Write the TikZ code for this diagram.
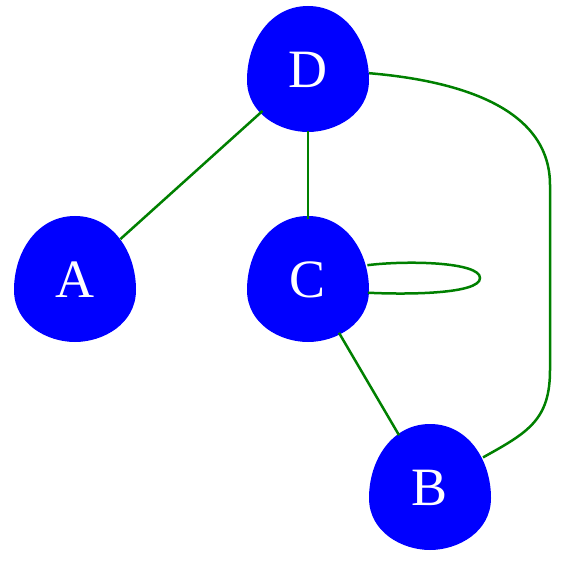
\documentclass[tikz,border=0pt]{standalone}
\usepackage{fontspec}
\setmainfont{Liberation Serif}
\usetikzlibrary{backgrounds}
\definecolor{cNode}{HTML}{0000FF}
\definecolor{cEdge}{HTML}{008000}
\tikzset{
  vert/.style = {circle, minimum size=122pt, inner sep=0pt, text=white,
                 font=\fontsize{54}{54}\selectfont},
  link/.style = {draw=cEdge, line width=2.5pt},
}
% egg outline round a node centre
\newcommand{\eggshape}[1]{%
  \fill[cNode] ([shift={(0,64)}]#1.center)
    .. controls +(38,0) and +(0,38) .. ([shift={(61,-10)}]#1.center)
    .. controls +(0,-34) and +(28,0) .. ([shift={(0,-62)}]#1.center)
    .. controls +(-28,0) and +(0,-34) .. ([shift={(-61,-10)}]#1.center)
    .. controls +(0,38) and +(-38,0) .. cycle;}

\begin{document}
\begin{tikzpicture}[x=1pt, y=1pt]
  \useasboundingbox (0,0) rectangle (567,560);

  \node[vert] (D) at (308,490) {D};
  \node[vert] (A) at (75,280)  {A};
  \node[vert] (C) at (308,280) {C};
  \node[vert] (B) at (430,72)  {B};

  \begin{scope}[on background layer]
    \eggshape{D}
    \eggshape{A}
    \eggshape{C}
    \eggshape{B}
  \end{scope}

  \coordinate (r1) at (550,375);
  \coordinate (r2) at (550,190);
  \coordinate (lp) at (480,282);

  \draw[link] (D) -- (A);
  \draw[link] (D) -- (C);
  \draw[link] (C) -- (B);
  \draw[link] (D.-3) .. controls +(95,-8) and +(0,75) .. (r1) -- (r2)
              .. controls +(0,-50) and +(45,25) .. (B.30);
  \draw[link] (C.14) .. controls +(40,5) and +(0,16) .. (lp)
              .. controls +(0,-16) and +(40,-2) .. (C.-12);
\end{tikzpicture}
\end{document}
